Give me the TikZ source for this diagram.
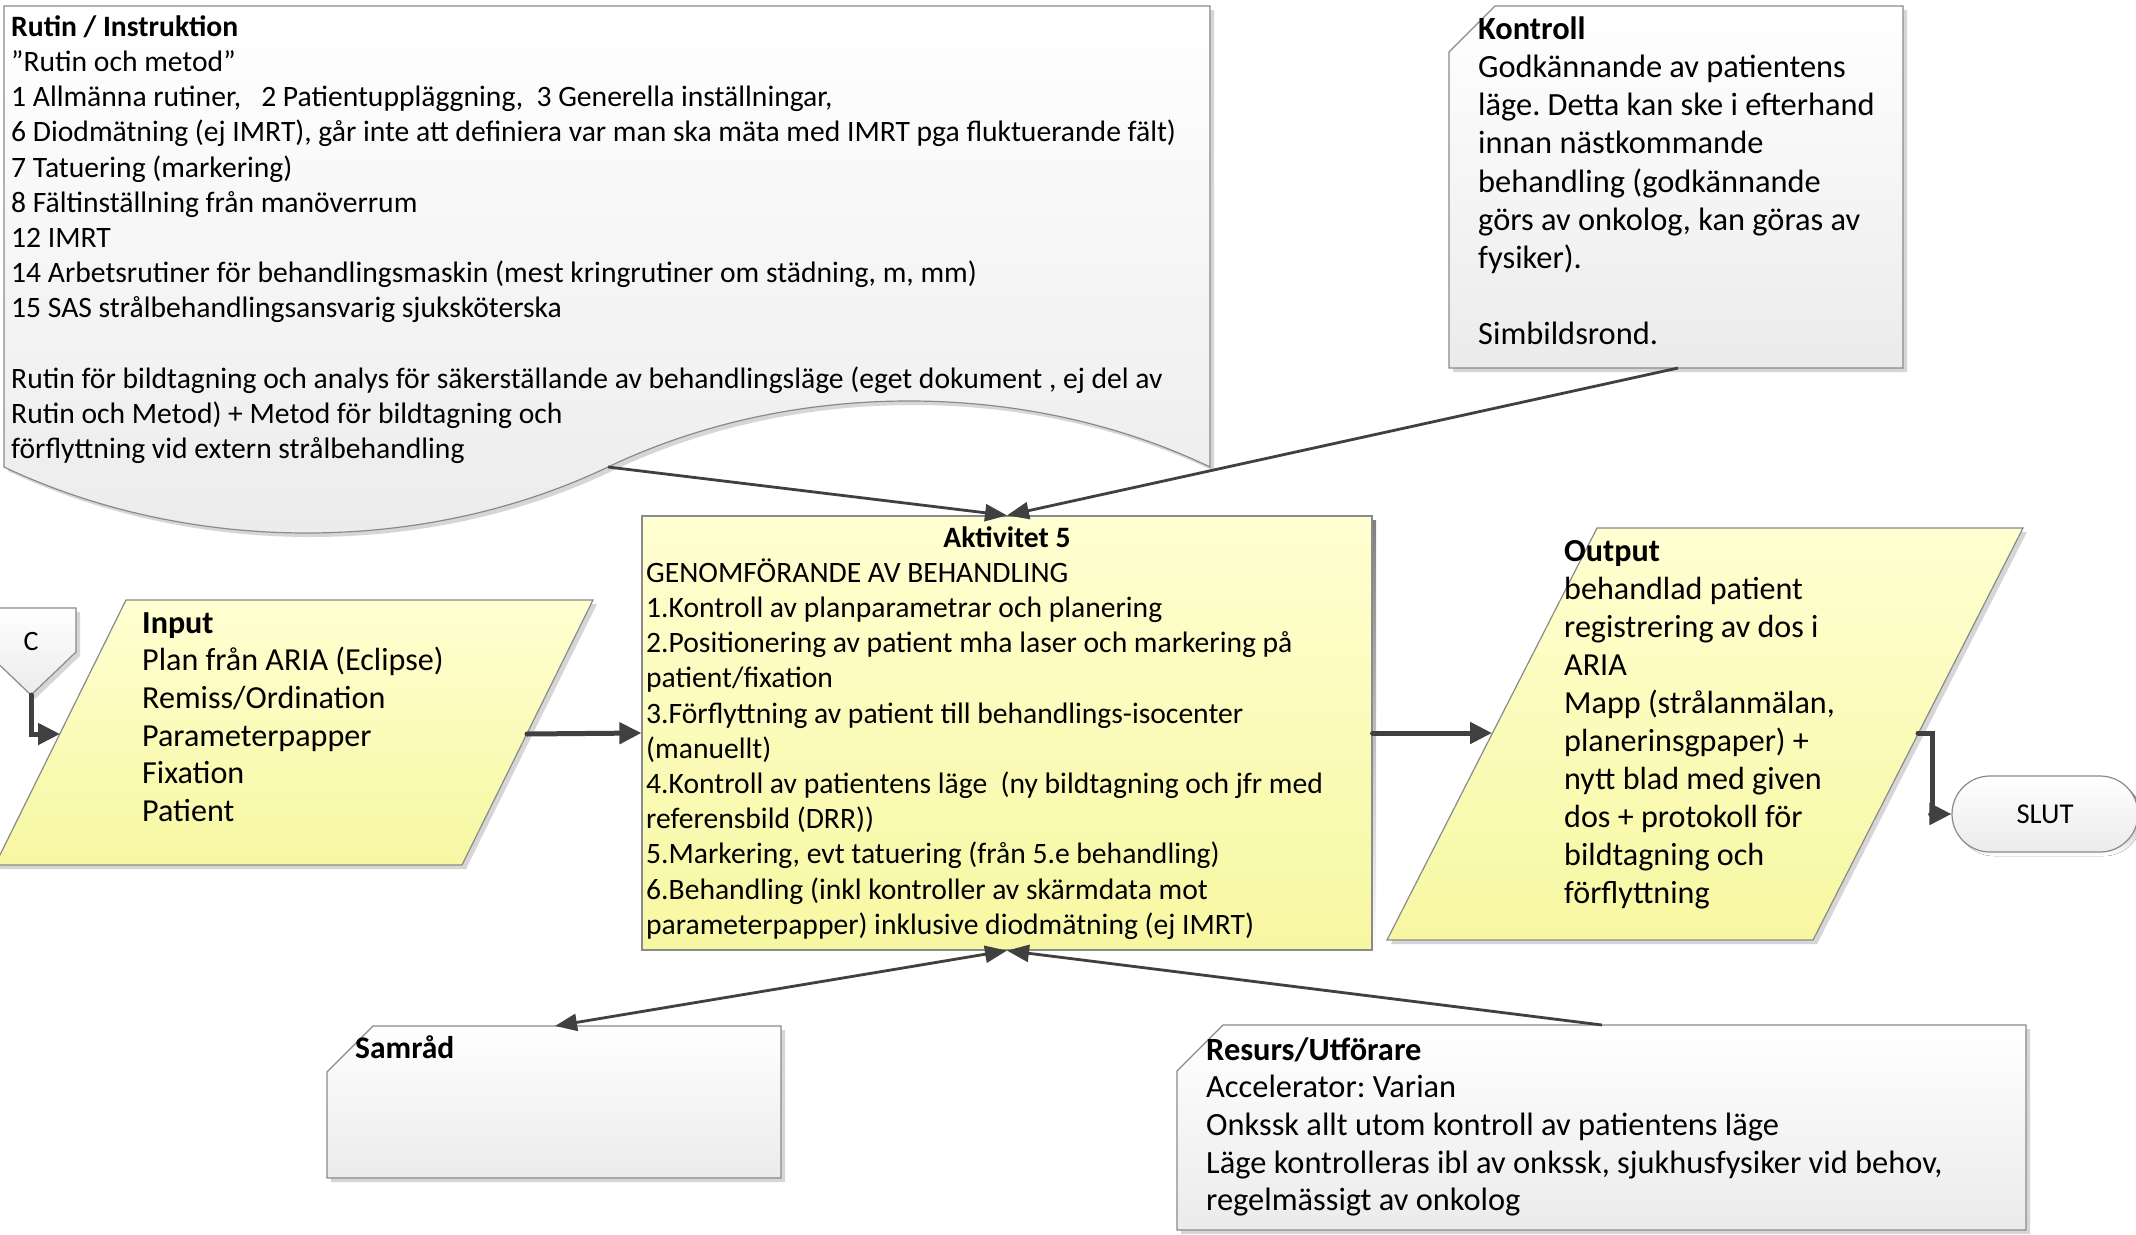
\documentclass[tikz,border=0pt]{standalone}
\usepackage{fontspec}
\setmainfont{Carlito}
\usetikzlibrary{arrows.meta,shapes.misc}

\definecolor{frame}{HTML}{8A8A8A}
\definecolor{wire}{HTML}{404040}
\definecolor{shade}{HTML}{D6D6D6}
\definecolor{yelTop}{HTML}{FFFFD2}
\definecolor{yelBot}{HTML}{F7F7A2}
\definecolor{grayBot}{HTML}{EBEBEB}

% invisible rule that fixes the height of a first text line
\newcommand\topstrut{\rule{0pt}{30pt}}
\frenchspacing

\begin{document}
\begin{tikzpicture}[x=1pt,y=-1pt,
  graybox/.style={draw=frame, line width=1.2pt, top color=white, bottom color=grayBot},
  yellowbox/.style={draw=frame, line width=1.2pt, top color=yelTop, bottom color=yelBot},
  dropshade/.style={fill=shade},
  body/.style={anchor=north west, inner sep=0pt, align=left},
  fsmall/.style={font=\fontsize{29.6}{35.2}\selectfont},
  fmid/.style={font=\fontsize{32.1}{37.6}\selectfont},
  fbig/.style={font=\fontsize{32.4}{38.2}\selectfont},
  thickarrow/.style={draw=wire, line width=5pt, line cap=round, -{Triangle[length=22pt,width=21pt]}},
  thinarrow/.style={draw=wire, line width=2.8pt, -{Triangle[length=22pt,width=17pt]}},
  botharrow/.style={draw=wire, line width=2.8pt, {Triangle[length=22pt,width=17pt]}-{Triangle[length=22pt,width=17pt]}},
]
\useasboundingbox (0,0) rectangle (2136,1234);
\clip (0,0) rectangle (2136,1234);
\fill[white] (0,0) rectangle (2136,1234);

% ---------- Rutin / Instruktion (document shape with wavy foot) ----------
\path[dropshade] (8,10) -- (1214,10) -- (1214,471)
  .. controls (1030,383) and (796,383) .. (612,471)
  .. controls (428,559) and (194,559) .. (8,471) -- cycle;
\path[graybox] (4,6) -- (1210,6) -- (1210,467)
  .. controls (1026,379) and (792,379) .. (608,467)
  .. controls (424,555) and (190,555) .. (4,467) -- cycle;
\coordinate (rutinWave) at (608,467);
\node[body, fsmall] (rutinText) at (11,6) {\topstrut\textbf{Rutin / Instruktion}\\
”Rutin och metod”\\
1 Allmänna rutiner,\ \ \ 2 Patientuppläggning,\ \ 3 Generella inställningar,\\
6 Diodmätning (ej IMRT), går inte att definiera var man ska mäta med IMRT pga fluktuerande fält)\\
7 Tatuering (markering)\\
8 Fältinställning från manöverrum\\
12 IMRT\\
14 Arbetsrutiner för behandlingsmaskin (mest kringrutiner om städning, m, mm)\\
15 SAS strålbehandlingsansvarig sjuksköterska\\[35.2pt]
Rutin för bildtagning och analys för säkerställande av behandlingsläge (eget dokument , ej del av\\
Rutin och Metod) + Metod för bildtagning och\\
förflyttning vid extern strålbehandling};

% ---------- Kontroll ----------
\path[dropshade] (1499,10) -- (1907,10) -- (1907,372) -- (1453,372) -- (1453,56) -- cycle;
\path[graybox] (1495,6) -- (1903,6) -- (1903,368) -- (1449,368) -- (1449,52) -- cycle;
\coordinate (kontrollFoot) at (1678,368);
\node[body, fbig] (kontrollText) at (1478,9) {\topstrut\textbf{Kontroll}\\
Godkännande av patientens\\
läge. Detta kan ske i efterhand\\
innan nästkommande\\
behandling (godkännande\\
görs av onkolog, kan göras av\\
fysiker).\\[38.2pt]
Simbildsrond.};

% ---------- Aktivitet 5 ----------
\fill[shade] (646,520) rectangle (1376,954);
\node[yellowbox, rectangle, minimum width=730pt, minimum height=434pt, inner sep=0pt] (akt) at (1007,733) {};
\node[anchor=base, inner sep=0pt, fsmall] (aktTitle) at (1007,547) {\textbf{Aktivitet 5}};
\node[body, fsmall] (aktText) at (646,552) {\topstrut GENOMFÖRANDE AV BEHANDLING\\
1.Kontroll av planparametrar och planering\\
2.Positionering av patient mha laser och markering på\\
patient/fixation\\
3.Förflyttning av patient till behandlings-isocenter\\
(manuellt)\\
4.Kontroll av patientens läge\ \ (ny bildtagning och jfr med\\
referensbild (DRR))\\
5.Markering, evt tatuering (från 5.e behandling)\\
6.Behandling (inkl kontroller av skärmdata mot\\
parameterpapper) inklusive diodmätning (ej IMRT)};

% ---------- C (off-page reference) ----------
\path[dropshade] (-10,612) -- (80,612) -- (80,656) -- (35,699) -- (-10,656) -- cycle;
\path[graybox] (-14,608) -- (76,608) -- (76,652) -- (31,695) -- (-14,652) -- cycle;
\coordinate (cTip) at (31,695);
\node[anchor=base, inner sep=0pt, font=\fontsize{28}{34}\selectfont] (cLabel) at (31,650) {C};

% ---------- Input ----------
\path[dropshade] (130,604) -- (597,604) -- (466,869) -- (-1,869) -- cycle;
\path[yellowbox] (126,600) -- (593,600) -- (462,865) -- (-5,865) -- cycle;
\coordinate (inL) at (60,734);
\coordinate (inR) at (527,734);
\node[body, fmid] (inputText) at (142,603) {\topstrut\textbf{Input}\\
Plan från ARIA (Eclipse)\\
Remiss/Ordination\\
Parameterpapper\\
Fixation\\
Patient};

% ---------- Output ----------
\path[dropshade] (1601,532) -- (2027,532) -- (1817,944) -- (1391,944) -- cycle;
\path[yellowbox] (1597,528) -- (2023,528) -- (1813,940) -- (1387,940) -- cycle;
\coordinate (outL) at (1492,733);
\coordinate (outR) at (1918,733);
\coordinate (slutBend) at (1932,733);
\node[body, font=\fontsize{32.1}{38}\selectfont] (outputText) at (1564,531) {\topstrut\textbf{Output}\\
behandlad patient\\
registrering av dos i\\
ARIA\\
Mapp (strålanmälan,\\
planerinsgpaper) +\\
nytt blad med given\\
dos + protokoll för\\
bildtagning och\\
förflyttning};

% ---------- SLUT ----------
\fill[shade, rounded corners=38pt] (1956,780) rectangle (2142,856);
\node[graybox, rounded rectangle, minimum width=186pt, minimum height=76pt, inner sep=0pt,
      font=\fontsize{28.7}{35}\selectfont] (slut) at (2045,814) {SLUT};

% ---------- Samråd ----------
\path[dropshade] (377,1030) -- (785,1030) -- (785,1182) -- (331,1182) -- (331,1076) -- cycle;
\path[graybox] (373,1026) -- (781,1026) -- (781,1178) -- (327,1178) -- (327,1072) -- cycle;
\coordinate (samTop) at (555,1026);
\node[anchor=base west, inner sep=0pt, font=\fontsize{31.5}{38}\selectfont] (samText) at (355,1058) {\textbf{Samråd}};

% ---------- Resurs/Utförare ----------
\path[dropshade] (1227,1029) -- (2030,1029) -- (2030,1234) -- (1181,1234) -- (1181,1075) -- cycle;
\path[graybox] (1223,1025) -- (2026,1025) -- (2026,1230) -- (1177,1230) -- (1177,1071) -- cycle;
\coordinate (resTop) at (1602,1025);
\node[body, font=\fontsize{32.4}{37.6}\selectfont] (resText) at (1206,1030) {\topstrut\textbf{Resurs/Utförare}\\
Accelerator: Varian\\
Onkssk allt utom kontroll av patientens läge\\
Läge kontrolleras ibl av onkssk, sjukhusfysiker vid behov,\\
regelmässigt av onkolog};

% ---------- connectors ----------
\draw[thinarrow] (rutinWave) -- (akt.north);
\draw[thinarrow] (kontrollFoot) -- (akt.north);
\draw[botharrow] (akt.south) -- (samTop);
\draw[thinarrow] (resTop) -- (akt.south);
\draw[thickarrow] (cTip) |- (inL);
\draw[thickarrow] (inR) -- (akt.west);
\draw[thickarrow] (akt.east) -- (outL);
\draw[thickarrow] (outR) -- (slutBend) |- (slut.west);
\end{tikzpicture}
\end{document}
